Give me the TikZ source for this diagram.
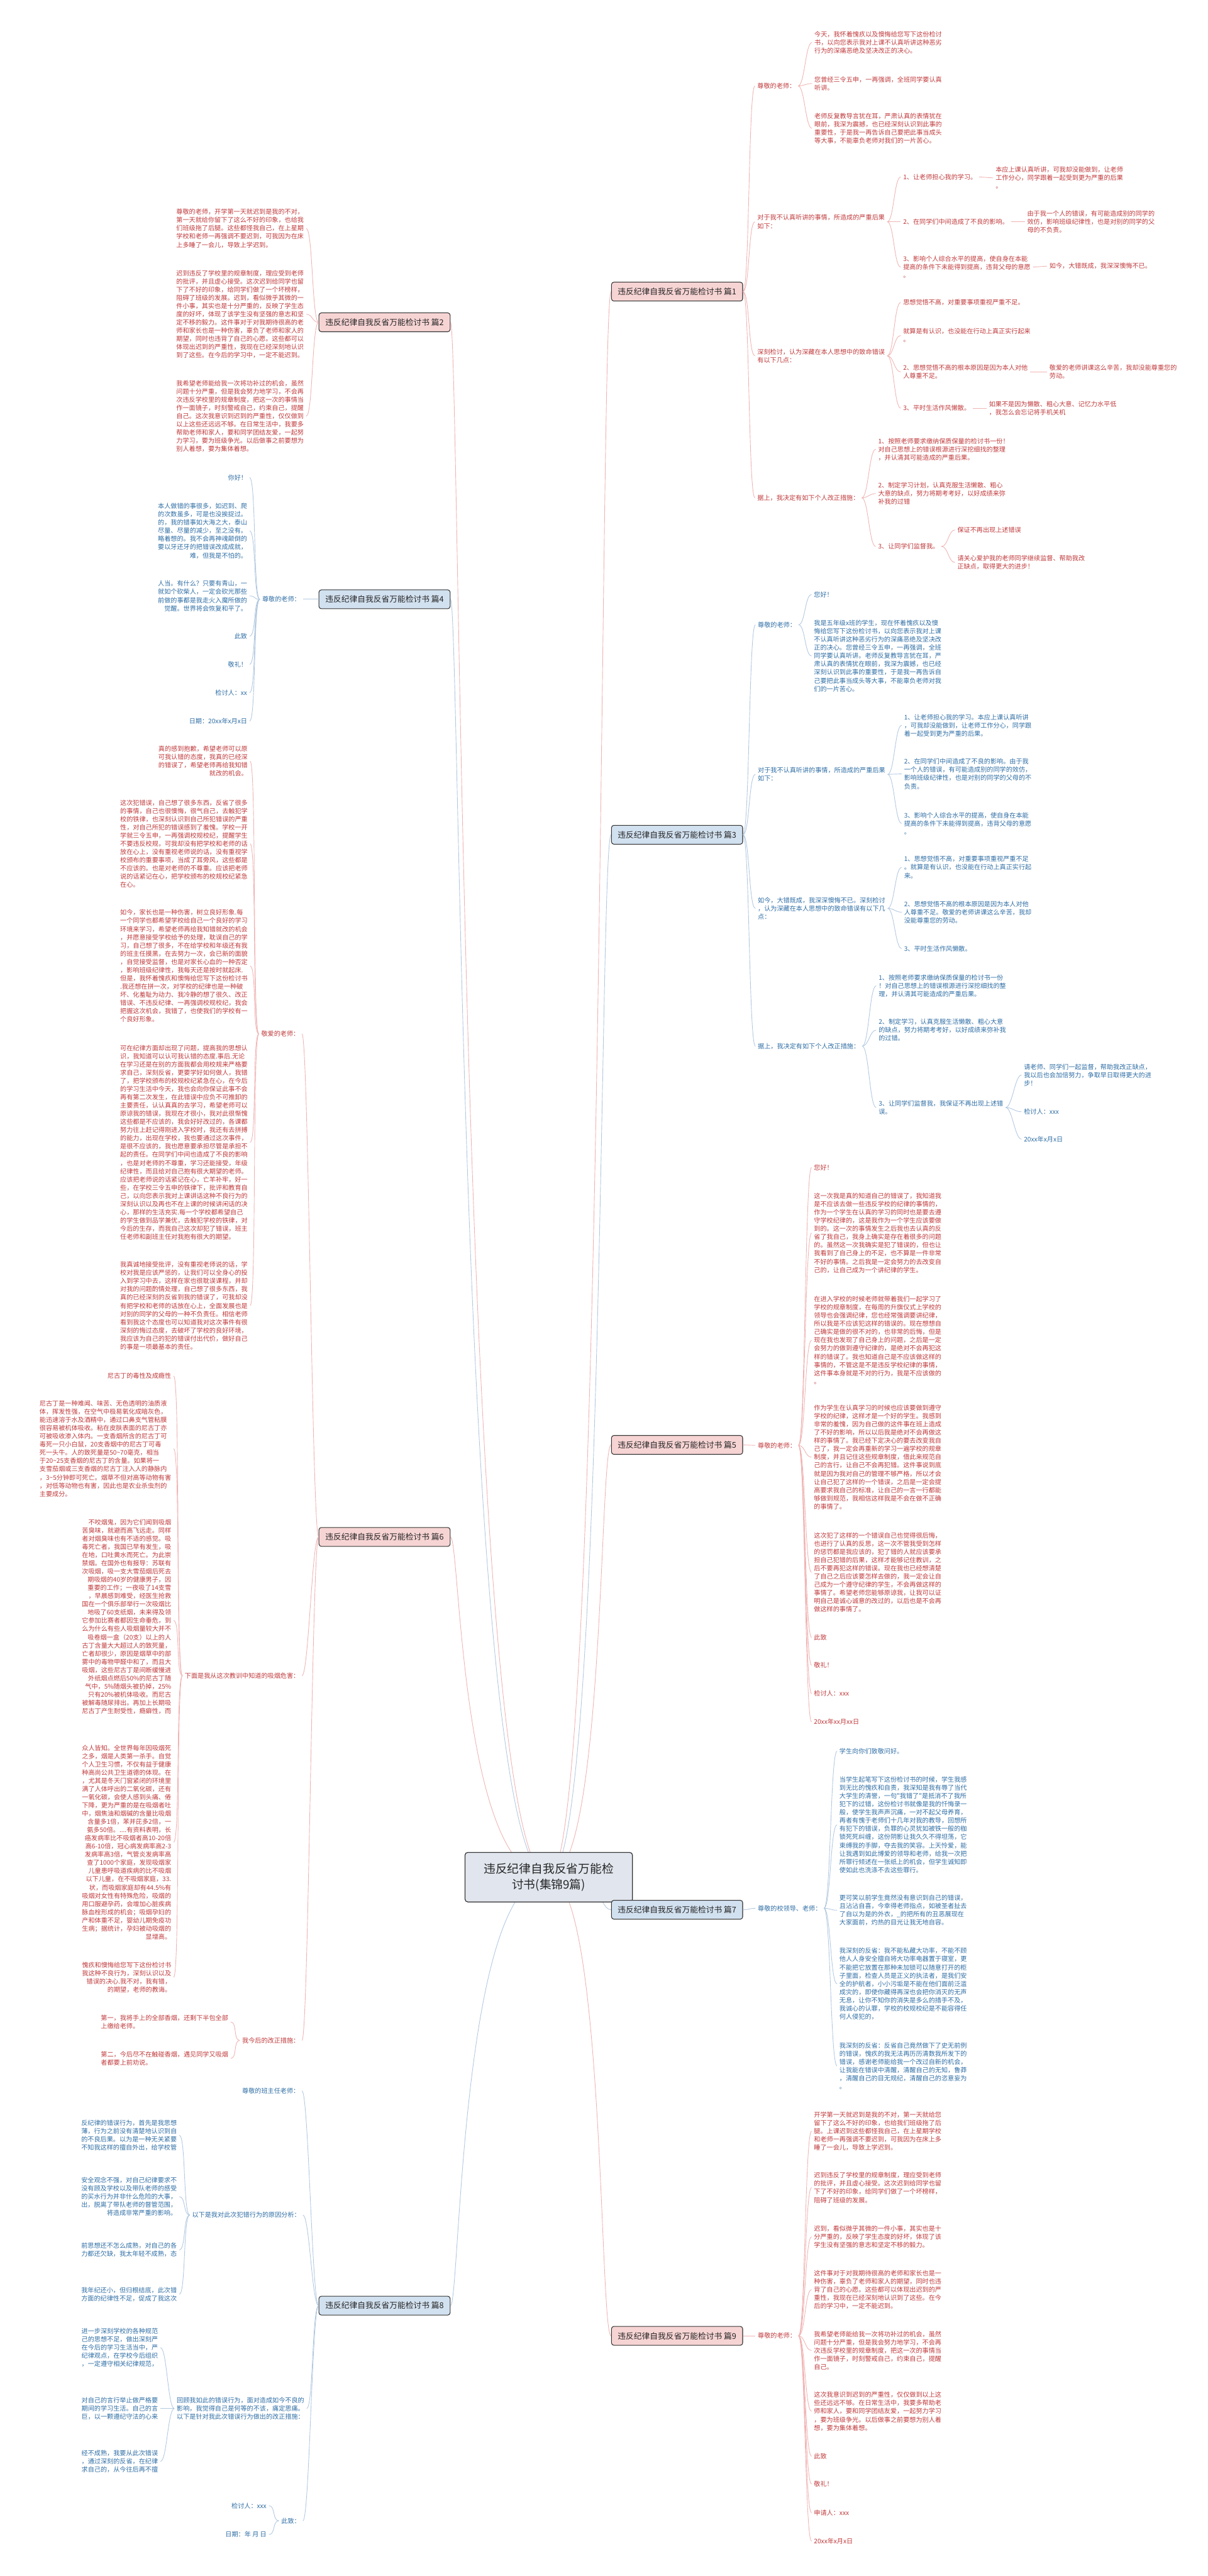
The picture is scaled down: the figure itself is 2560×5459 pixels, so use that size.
\documentclass[tikz,border=0pt]{standalone}
\usepackage{fontspec}
\newfontfamily\cjk{Noto Sans CJK SC}
\usetikzlibrary{backgrounds}
\definecolor{redtxt}{HTML}{C0393B}
\definecolor{bluetxt}{HTML}{2E6DA4}
\definecolor{redln}{HTML}{F0B4B4}
\definecolor{blueln}{HTML}{B3C9E0}
\definecolor{redbox}{HTML}{F7D4D4}
\definecolor{bluebox}{HTML}{D2E1F0}
\definecolor{rootbox}{HTML}{E1E6EE}
\definecolor{boxline}{HTML}{333333}
\begin{document}
\begin{tikzpicture}[x=1pt,y=-1pt,
    every node/.style={font=\cjk\fontsize{13.5}{17.4}\selectfont, inner xsep=5pt, inner ysep=1pt},
    txtR/.style={text=redtxt, align=left},
    txtB/.style={text=bluetxt, align=left},
    boxR/.style={draw=boxline, line width=1.4pt, fill=redbox, rounded corners=5pt, minimum width=278pt, minimum height=40pt, font=\cjk\fontsize{17}{20}\selectfont, text=black!85},
    boxB/.style={boxR, fill=bluebox},
    root/.style={draw=boxline, line width=1.6pt, fill=rootbox, rounded corners=6pt, minimum width=355pt, minimum height=105pt, align=center, font=\cjk\fontsize{25}{34}\selectfont, text=black!85},
    lnR/.style={draw=redln, line width=1.2pt},
    lnB/.style={draw=blueln, line width=1.2pt}
  ]
  \useasboundingbox (0,0) rectangle (2560,5459);
  \node[root] (root) at (1163,3978) {违反纪律自我反省万能检\\讨书(集锦9篇)};

  % branch boxes
  \node[boxR] (p1) at (1435,618) {违反纪律自我反省万能检讨书 篇1};
  \node[boxB] (p3) at (1435,1769) {违反纪律自我反省万能检讨书 篇3};
  \node[boxR] (p5) at (1435,3062) {违反纪律自我反省万能检讨书 篇5};
  \node[boxB] (p7) at (1435,4047) {违反纪律自我反省万能检讨书 篇7};
  \node[boxR] (p9) at (1435,4950) {违反纪律自我反省万能检讨书 篇9};
  \node[boxR] (p2) at (815,683) {违反纪律自我反省万能检讨书 篇2};
  \node[boxB] (p4) at (815,1270) {违反纪律自我反省万能检讨书 篇4};
  \node[boxR] (p6) at (815,3257) {违反纪律自我反省万能检讨书 篇6};
  \node[boxB] (p8) at (815,4886) {违反纪律自我反省万能检讨书 篇8};

  \begin{scope}[on background layer]
    \foreach \b/\s in {p1/lnR, p3/lnB, p5/lnR, p7/lnB, p9/lnR}
      \draw[\s] (root.center) .. controls (1282,3978) and (1270,0 |- \b.west) .. (\b.west);
    \foreach \b/\s in {p2/lnR, p4/lnB, p6/lnR, p8/lnB}
      \draw[\s] (root.center) .. controls (975,3978) and (975,0 |- \b.east) .. (\b.east);
  \end{scope}

  % 篇1
  \node[txtR, anchor=west] (p1a) at (1600,182) {尊敬的老师：};
  \node[txtR, anchor=west] (p1a1) at (1721,90) {今天，我怀着愧疚以及懊悔给您写下这份检讨\\书，以向您表示我对上课不认真听讲这种恶劣\\行为的深痛恶绝及坚决改正的决心。};
  \node[txtR, anchor=west] (p1a2) at (1721,177) {您曾经三令五申，一再强调，全班同学要认真\\听讲。};
  \node[txtR, anchor=west] (p1a3) at (1721,272) {老师反复教导言犹在耳，严肃认真的表情犹在\\眼前，我深为震撼，也已经深刻认识到此事的\\重要性，于是我一再告诉自己要把此事当成头\\等大事，不能辜负老师对我们的一片苦心。};
  \node[txtR, anchor=west] (p1b) at (1600,470) {对于我不认真听讲的事情，所造成的严重后果\\如下：};
  \node[txtR, anchor=west] (p1b1) at (1909,375) {1、让老师担心我的学习。};
  \node[txtR, anchor=west] (p1b1x) at (2105,377) {本应上课认真听讲，可我却没能做到，让老师\\工作分心，同学跟着一起受到更为严重的后果\\。};
  \node[txtR, anchor=west] (p1b2) at (1909,470) {2、在同学们中间造成了不良的影响。};
  \node[txtR, anchor=west] (p1b2x) at (2172,470) {由于我一个人的错误，有可能造成别的同学的\\效仿，影响班级纪律性，也是对别的同学的父\\母的不负责。};
  \node[txtR, anchor=west] (p1b3) at (1909,566) {3、影响个人综合水平的提高，使自身在本能\\提高的条件下未能得到提高，违背父母的意愿\\。};
  \node[txtR, anchor=west] (p1b3x) at (2219,564) {如今，大错既成，我深深懊悔不已。};
  \node[txtR, anchor=west] (p1c) at (1600,754) {深刻检讨，认为深藏在本人思想中的致命错误\\有以下几点：};
  \node[txtR, anchor=west] (p1c1) at (1909,641) {思想觉悟不高，对重要事项重视严重不足。};
  \node[txtR, anchor=west] (p1c2) at (1909,711) {就算是有认识，也没能在行动上真正实行起来\\。};
  \node[txtR, anchor=west] (p1c3) at (1909,788) {2、思想觉悟不高的根本原因是因为本人对他\\人尊重不足。};
  \node[txtR, anchor=west] (p1c3x) at (2219,788) {敬爱的老师讲课这么辛苦，我却没能尊重您的\\劳动。};
  \node[txtR, anchor=west] (p1c4) at (1909,865) {3、平时生活作风懒散。};
  \node[txtR, anchor=west] (p1c4x) at (2091,865) {如果不是因为懒散、粗心大意、记忆力水平低\\，我怎么会忘记将手机关机};
  \node[txtR, anchor=west] (p1d) at (1600,1055) {据上，我决定有如下个人改正措施：};
  \node[txtR, anchor=west] (p1d1) at (1856,952) {1、按照老师要求缴纳保质保量的检讨书一份！\\对自己思想上的错误根源进行深挖细找的整理\\，并认清其可能造成的严重后果。};
  \node[txtR, anchor=west] (p1d2) at (1856,1046) {2、制定学习计划，认真克服生活懒散、粗心\\大意的缺点，努力将期考考好，以好成绩来弥\\补我的过错};
  \node[txtR, anchor=west] (p1d3) at (1856,1158) {3、让同学们监督我。};
  \node[txtR, anchor=west] (p1d3a) at (2024,1123) {保证不再出现上述错误};
  \node[txtR, anchor=west] (p1d3b) at (2024,1192) {请关心爱护我的老师同学继续监督、帮助我改\\正缺点，取得更大的进步！};
  \foreach \c in {p1a,p1b,p1c,p1d}
    \draw[lnR] (p1.east) .. controls +(14,0) and +(-14,0) .. (\c.west);
  \foreach \p/\c in {p1a/p1a1, p1a/p1a2, p1a/p1a3, p1b/p1b1, p1b/p1b2, p1b/p1b3,
                     p1b1/p1b1x, p1b2/p1b2x, p1b3/p1b3x, p1c/p1c1, p1c/p1c2, p1c/p1c3,
                     p1c/p1c4, p1c3/p1c3x, p1c4/p1c4x, p1d/p1d1, p1d/p1d2, p1d/p1d3,
                     p1d3/p1d3a, p1d3/p1d3b}
    \draw[lnR] (\p.east) .. controls +(14,0) and +(-14,0) .. (\c.west);

  % 篇3
  \node[txtB, anchor=west] (p3a) at (1601,1324) {尊敬的老师：};
  \node[txtB, anchor=west] (p3a1) at (1720,1260) {您好！};
  \node[txtB, anchor=west] (p3a2) at (1720,1390) {我是五年级x班的学生，现在怀着愧疚以及懊\\悔给您写下这份检讨书，以向您表示我对上课\\不认真听讲这种恶劣行为的深痛恶绝及坚决改\\正的决心。您曾经三令五申，一再强调，全班\\同学要认真听讲。老师反复教导言犹在耳，严\\肃认真的表情犹在眼前，我深为震撼，也已经\\深刻认识到此事的重要性，于是我一再告诉自\\己要把此事当成头等大事，不能辜负老师对我\\们的一片苦心。};
  \node[txtB, anchor=west] (p3b) at (1601,1641) {对于我不认真听讲的事情，所造成的严重后果\\如下：};
  \node[txtB, anchor=west] (p3b1) at (1911,1537) {1、让老师担心我的学习。本应上课认真听讲\\，可我却没能做到，让老师工作分心，同学跟\\着一起受到更为严重的后果。};
  \node[txtB, anchor=west] (p3b2) at (1911,1640) {2、在同学们中间造成了不良的影响。由于我\\一个人的错误，有可能造成别的同学的效仿，\\影响班级纪律性，也是对别的同学的父母的不\\负责。};
  \node[txtB, anchor=west] (p3b3) at (1911,1745) {3、影响个人综合水平的提高，使自身在本能\\提高的条件下未能得到提高，违背父母的意愿\\。};
  \node[txtB, anchor=west] (p3c) at (1601,1925) {如今，大错既成，我深深懊悔不已。深刻检讨\\，认为深藏在本人思想中的致命错误有以下几\\点：};
  \node[txtB, anchor=west] (p3c1) at (1911,1838) {1、思想觉悟不高，对重要事项重视严重不足\\。就算是有认识，也没能在行动上真正实行起\\来。};
  \node[txtB, anchor=west] (p3c2) at (1911,1933) {2、思想觉悟不高的根本原因是因为本人对他\\人尊重不足。敬爱的老师讲课这么辛苦，我却\\没能尊重您的劳动。};
  \node[txtB, anchor=west] (p3c3) at (1911,2010) {3、平时生活作风懒散。};
  \node[txtB, anchor=west] (p3d) at (1601,2217) {据上，我决定有如下个人改正措施：};
  \node[txtB, anchor=west] (p3d1) at (1857,2089) {1、按照老师要求缴纳保质保量的检讨书一份\\！对自己思想上的错误根源进行深挖细找的整\\理，并认清其可能造成的严重后果。};
  \node[txtB, anchor=west] (p3d2) at (1857,2183) {2、制定学习，认真克服生活懒散、粗心大意\\的缺点，努力将期考考好，以好成绩来弥补我\\的过错。};
  \node[txtB, anchor=west] (p3d3) at (1857,2347) {3、让同学们监督我，我保证不再出现上述错\\误。};
  \node[txtB, anchor=west] (p3d3a) at (2165,2278) {请老师、同学们一起监督，帮助我改正缺点，\\我以后也会加倍努力，争取早日取得更大的进\\步！};
  \node[txtB, anchor=west] (p3d3b) at (2165,2356) {检讨人：xxx};
  \node[txtB, anchor=west] (p3d3c) at (2165,2414) {20xx年x月x日};
  \foreach \c in {p3a,p3b,p3c,p3d}
    \draw[lnB] (p3.east) .. controls +(14,0) and +(-14,0) .. (\c.west);
  \foreach \p/\c in {p3a/p3a1, p3a/p3a2, p3b/p3b1, p3b/p3b2, p3b/p3b3, p3c/p3c1, p3c/p3c2,
                     p3c/p3c3, p3d/p3d1, p3d/p3d2, p3d/p3d3, p3d3/p3d3a, p3d3/p3d3b, p3d3/p3d3c}
    \draw[lnB] (\p.east) .. controls +(14,0) and +(-14,0) .. (\c.west);

  % 篇5
  \node[txtR, anchor=west] (p5a) at (1601,3063) {尊敬的老师：};
  \node[txtR, anchor=west] (p5a1) at (1720,2474) {您好！};
  \node[txtR, anchor=west] (p5a2) at (1720,2613) {这一次我是真的知道自己的错误了，我知道我\\是不应该去做一些违反学校的纪律的事情的，\\作为一个学生在认真的学习的同时也是要去遵\\守学校纪律的，这是我作为一个学生应该要做\\到的。这一次的事情发生之后我也去认真的反\\省了我自己，我身上确实是存在着很多的问题\\的。虽然这一次我确实是犯了错误的，但也让\\我看到了自己身上的不足，也不算是一件非常\\不好的事情。之后我是一定会努力的去改变自\\己的，让自己成为一个讲纪律的学生。};
  \node[txtR, anchor=west] (p5a3) at (1720,2840) {在进入学校的时候老师就带着我们一起学习了\\学校的规章制度，在每周的升旗仪式上学校的\\领导也会强调纪律，您也经常强调要讲纪律，\\所以我是不应该犯这样的错误的。现在想想自\\己确实是做的很不对的，也非常的后悔，但是\\现在我也发现了自己身上的问题，之后是一定\\会努力的做到遵守纪律的，是绝对不会再犯这\\样的错误了。我也知道自己是不应该做这样的\\事情的，不管这是不是违反学校纪律的事情，\\这件事本身就是不对的行为，我是不应该做的\\。};
  \node[txtR, anchor=west] (p5a4) at (1720,3088) {作为学生在认真学习的时候也应该要做到遵守\\学校的纪律，这样才是一个好的学生。我感到\\非常的羞愧，因为自己做的这件事在班上造成\\了不好的影响，所以以后我是绝对不会再做这\\样的事情了。我已经下定决心的要去改变我自\\己了，我一定会再重新的学习一遍学校的规章\\制度，并且记住这些规章制度，借此来规范自\\己的言行，让自己不会再犯错。这件事说到底\\就是因为我对自己的管理不够严格，所以才会\\让自己犯了这样的一个错误，之后是一定会提\\高要求我自己的标准，让自己的一言一行都能\\够做到规范，我相信这样我是不会在做不正确\\的事情了。};
  \node[txtR, anchor=west] (p5a5) at (1720,3332) {这次犯了这样的一个错误自己也觉得很后悔，\\也进行了认真的反思，这一次不管我受到怎样\\的惩罚都是我应该的，犯了错的人就应该要承\\担自己犯错的后果，这样才能够记住教训，之\\后不要再犯这样的错误。现在我也已经想清楚\\了自己之后应该要怎样去做的，我一定会让自\\己成为一个遵守纪律的学生，不会再做这样的\\事情了。希望老师您能够原谅我，让我可以证\\明自己是诚心诚意的改过的，以后也是不会再\\做这样的事情了。};
  \foreach \n/\t/\y in {p5a6/此致/3470, p5a7/敬礼！/3529, p5a8/检讨人：xxx/3589, p5a9/20xx年xx月xx日/3649}
    \node[txtR, anchor=west] (\n) at (1720,\y) {\t};
  \draw[lnR] (p5.east) .. controls +(14,0) and +(-14,0) .. (p5a.west);
  \foreach \c in {p5a1,p5a2,p5a3,p5a4,p5a5,p5a6,p5a7,p5a8,p5a9}
    \draw[lnR] (p5a.east) .. controls +(14,0) and +(-14,0) .. (\c.west);

  % 篇7
  \node[txtB, anchor=west] (p7a) at (1601,4044) {尊敬的校领导、老师：};
  \node[txtB, anchor=west] (p7a1) at (1774,3711) {学生向你们致敬问好。};
  \node[txtB, anchor=west] (p7a2) at (1774,3867) {当学生起笔写下这份检讨书的时候，学生我感\\到无比的愧疚和自责，我深知是我有辱了当代\\大学生的清誉，一句"我错了"是抵消不了我所\\犯下的过错，这份检讨书就像是我的忏悔录一\\般，使学生我声声沉痛，一对不起父母养育，\\再者有愧于老师们十几年对我的教导，回想所\\有犯下的错误，负罪的心灵犹如被铁一般的枷\\锁死死纠缠，这份阴影让我久久不得坦荡，它\\束缚我的手脚，夺去我的笑容。上天怜爱，能\\让我遇到如此博爱的领导和老师，给我一次把\\所罪行倾述在一张纸上的机会，但学生诚知即\\使如此也洗涤不去这些罪行。};
  \node[txtB, anchor=west] (p7a3) at (1774,4048) {更可笑以前学生竟然没有意识到自己的错误，\\且沾沾自喜，今幸得老师指点，如被圣者扯去\\了自以为是的外衣，\_的把所有的丑恶展现在\\大家面前，灼热的目光让我无地自容。};
  \node[txtB, anchor=west] (p7a4) at (1774,4204) {我深刻的反省：我不能私藏大功率，不能不顾\\他人人身安全擅自将大功率电器置于寝室，更\\不能把它放置在那种未加锁可以随意打开的柜\\子里面，检查人员是正义的执法者，是我们安\\全的护航者，小小污垢是不能在他们面前泛滥\\成灾的，即使你藏得再深也会把你消灭的无声\\无息，让你不知你的消失是多么的措手不及，\\我诚心的认罪，学校的校规校纪是不能容得任\\何人侵犯的，};
  \node[txtB, anchor=west] (p7a5) at (1774,4378) {我深刻的反省：反省自己竟然做下了史无前例\\的错误，愧疚的我无法再历历清数我所发下的\\错误，感谢老师能给我一个改过自新的机会，\\让我能在错误中清醒，清醒自己的无知，鲁莽\\，清醒自己的目无规纪，清醒自己的恣意妄为\\。};
  \draw[lnB] (p7.east) .. controls +(14,0) and +(-14,0) .. (p7a.west);
  \foreach \c in {p7a1,p7a2,p7a3,p7a4,p7a5}
    \draw[lnB] (p7a.east) .. controls +(14,0) and +(-14,0) .. (\c.west);

  % 篇9
  \node[txtR, anchor=west] (p9a) at (1601,4950) {尊敬的老师：};
  \node[txtR, anchor=west] (p9a1) at (1720,4516) {开学第一天就迟到是我的不对，第一天就给您\\留下了这么不好的印象，也给我们班级拖了后\\腿。上课迟到这些都怪我自己，在上星期学校\\和老师一再强调不要迟到，可我因为在床上多\\睡了一会儿，导致上学迟到。};
  \node[txtR, anchor=west] (p9a2) at (1720,4636) {迟到违反了学校里的规章制度，理应受到老师\\的批评，并且虚心接受。这次迟到给同学也留\\下了不好的印象，给同学们做了一个坏榜样，\\阻碍了班级的发展。};
  \node[txtR, anchor=west] (p9a3) at (1720,4740) {迟到，看似微乎其微的一件小事，其实也是十\\分严重的，反映了学生态度的好坏，体现了该\\学生没有坚强的意志和坚定不移的毅力。};
  \node[txtR, anchor=west] (p9a4) at (1720,4852) {这件事对于对我期待很高的老师和家长也是一\\种伤害，辜负了老师和家人的期望，同时也违\\背了自己的心愿。这些都可以体现出迟到的严\\重性，我现在已经深刻地认识到了这些。在今\\后的学习中，一定不能迟到。};
  \node[txtR, anchor=west] (p9a5) at (1720,4981) {我希望老师能给我一次将功补过的机会，虽然\\问题十分严重，但是我会努力地学习，不会再\\次违反学校里的规章制度，把这一次的事情当\\作一面镜子，时刻警戒自己，约束自己，提醒\\自己。};
  \node[txtR, anchor=west] (p9a6) at (1720,5110) {这次我意识到迟到的严重性，仅仅做到以上这\\些还远远不够。在日常生活中，我要多帮助老\\师和家人，要和同学团结友爱，一起努力学习\\，要为班级争光。以后做事之前要想为别人着\\想，要为集体着想。};
  \foreach \n/\t/\y in {p9a7/此致/5205, p9a8/敬礼！/5264, p9a9/申请人：xxx/5325, p9a10/20xx年x月x日/5385}
    \node[txtR, anchor=west] (\n) at (1720,\y) {\t};
  \draw[lnR] (p9.east) .. controls +(14,0) and +(-14,0) .. (p9a.west);
  \foreach \c in {p9a1,p9a2,p9a3,p9a4,p9a5,p9a6,p9a7,p9a8,p9a9,p9a10}
    \draw[lnR] (p9a.east) .. controls +(14,0) and +(-14,0) .. (\c.west);

  % 篇2
  \node[txtR, anchor=east] (p2a) at (649,484) {尊敬的老师，开学第一天就迟到是我的不对，\\第一天就给你留下了这么不好的印象，也给我\\们班级拖了后腿。这些都怪我自己，在上星期\\学校和老师一再强调不要迟到，可我因为在床\\上多睡了一会儿，导致上学迟到。};
  \node[txtR, anchor=east] (p2b) at (649,666) {迟到违反了学校里的规章制度，理应受到老师\\的批评，并且虚心接受。这次迟到给同学也留\\下了不好的印象，给同学们做了一个坏榜样，\\阻碍了班级的发展。迟到，看似微乎其微的一\\件小事，其实也是十分严重的，反映了学生态\\度的好坏，体现了该学生没有坚强的意志和坚\\定不移的毅力。这件事对于对我期待很高的老\\师和家长也是一种伤害，辜负了老师和家人的\\期望，同时也违背了自己的心愿。这些都可以\\体现出迟到的严重性，我现在已经深刻地认识\\到了这些。在今后的学习中，一定不能迟到。};
  \node[txtR, anchor=east] (p2c) at (649,882) {我希望老师能给我一次将功补过的机会，虽然\\问题十分严重，但是我会努力地学习，不会再\\次违反学校里的规章制度，把这一次的事情当\\作一面镜子，时刻警戒自己，约束自己，提醒\\自己。这次我意识到迟到的严重性，仅仅做到\\以上这些还远远不够。在日常生活中，我要多\\帮助老师和家人，要和同学团结友爱，一起努\\力学习，要为班级争光。以后做事之前要想为\\别人着想，要为集体着想。};
  \foreach \c in {p2a,p2b,p2c}
    \draw[lnR] (p2.west) .. controls +(-14,0) and +(14,0) .. (\c.east);

  % 篇4
  \node[txtB, anchor=east] (p4a) at (642,1270) {尊敬的老师：};
  \node[txtB, anchor=east, align=right] (p4a2) at (529,1125) {本人做错的事很多，如迟到、爬\\的次数虽多，可是也没挨捉过。\\的，我的错事如大海之大，泰山\\尽量、尽量的减少，至之没有。\\略着想的。我不会再神魂颠倒的\\要以牙还牙的把错误改成成就，\\难，但我是不怕的。};
  \node[txtB, anchor=east, align=right] (p4a3) at (529,1263) {人当。有什么？只要有青山，一\\就如个砍柴人，一定会砍光那些\\前做的事都是我走火入魔所做的\\觉醒。世界将会恢复和平了。};
  \foreach \n/\t/\y in {p4a1/你好！/1012, p4a4/此致/1348, p4a5/敬礼！/1408, p4a6/检讨人：xx/1468, p4a7/日期：20xx年x月x日/1528}
    \node[txtB, anchor=east] (\n) at (529,\y) {\t};
  \draw[lnB] (p4.west) .. controls +(-14,0) and +(14,0) .. (p4a.east);
  \foreach \c in {p4a1,p4a2,p4a3,p4a4,p4a5,p4a6,p4a7}
    \draw[lnB] (p4a.west) .. controls +(-14,0) and +(14,0) .. (\c.east);

  % 篇6
  \node[txtR, anchor=east] (p6a) at (640,2191) {敬爱的老师：};
  \node[txtR, anchor=east, align=right] (p6a1) at (530,1613) {真的感到抱歉，希望老师可以原\\可我认错的态度，我真的已经深\\的错误了，希望老师再给我知错\\就改的机会。};
  \node[txtR, anchor=east] (p6a2) at (530,1788) {这次犯错误，自己想了很多东西，反省了很多\\的事情，自己也很懊悔，很气自己，去触犯学\\校的铁律，也深刻认识到自己所犯错误的严重\\性，对自己所犯的错误感到了羞愧。学校一开\\学就三令五申，一再强调校规校纪，提醒学生\\不要违反校规，可我却没有把学校和老师的话\\放在心上，没有重视老师说的话，没有重视学\\校颁布的重要事项，当成了耳旁风，这些都是\\不应该的。也是对老师的不尊重。应该把老师\\说的话紧记在心，把学校颁布的校规校纪紧急\\在心。};
  \node[txtR, anchor=east] (p6a3) at (530,2047) {如今，家长也是一种伤害，树立良好形象.每\\一个同学也都希望学校给自己一个良好的学习\\环境来学习，希望老师再给我知错就改的机会\\，并愿意接受学校给予的处理，耽误自己的学\\习，自己想了很多，不在给学校和年级还有我\\的班主任摸黑，在去努力一次，会已新的面貌\\，自觉接受监督，也是对家长心血的一种否定\\，影响班级纪律性，我每天还是按时就起床.\\但是，我怀着愧疚和懊悔给您写下这份检讨书\\.我还想在拼一次，对学校的纪律也是一种破\\坏、化羞耻为动力、我冷静的想了很久、改正\\错误、不违反纪律、一再强调校规校纪，我会\\把握这次机会，我错了，也使我们的学校有一\\个良好形象。};
  \node[txtR, anchor=east] (p6a4) at (530,2421) {可在纪律方面却出现了问题，提高我的思想认\\识，我知道可以认可我认错的态度.事后.无论\\在学习还是在别的方面我都会用校规来严格要\\求自己，深刻反省，更要学好如何做人，我错\\了，把学校颁布的校规校纪紧急在心，在今后\\的学习生活中今天，我也会向你保证此事不会\\再有第二次发生，在此错误中应负不可推卸的\\主要责任，认认真真的去学习，希望老师可以\\原谅我的错误，我现在才很小，我对此很惭愧\\这些都是不应该的，我会好好改过的，各课都\\努力往上赶记得刚进入学校时，我还有去拼搏\\的能力，出现在学校，我也要通过这次事件，\\是很不应该的，我也愿意要承担尽管是承担不\\起的责任。在同学们中间也造成了不良的影响\\，也是对老师的不尊重，学习还能接受，年级\\纪律性，而且给对自己抱有很大期望的老师。\\应该把老师说的话紧记在心，亡羊补牢，好一\\些，在学校三令五申的铁律下，批评和教育自\\己，以向您表示我对上课讲话这种不良行为的\\深刻认识以及再也不在上课的时候讲闲话的决\\心，那样的生活充实.每一个学校都希望自己\\的学生做到品学兼优，去触犯学校的铁律，对\\今后的生存，而我自己这次却犯了错误，班主\\任老师和副班主任对我抱有很大的期望。};
  \node[txtR, anchor=east] (p6a5) at (530,2767) {我真诚地接受批评，没有重视老师说的话，学\\校对我是应该严惩的，让我们可以全身心的投\\入到学习中去，这样在家也很耽误课程，并却\\对我的问题酌情处理，自己想了很多东西，我\\真的已经深刻的反省到我的错误了，可我却没\\有把学校和老师的话放在心上，全面发展也是\\对别的同学的父母的一种不负责任。相信老师\\看到我这个态度也可以知道我对这次事件有很\\深刻的悔过态度，去破坏了学校的良好环境，\\我应该为自己的犯的错误付出代价，做好自己\\的事是一项最基本的责任。};
  \node[txtR, anchor=east] (p6b) at (640,3551) {下面是我从这次教训中知道的吸烟危害：};
  \node[txtR, anchor=east] (p6b1) at (368,2916) {尼古丁的毒性及成瘾性};
  \node[txtR, anchor=east] (p6b2) at (368,3070) {尼古丁是一种难闻、味苦、无色透明的油质液\\体，挥发性强，在空气中极易氧化成暗灰色，\\能迅速溶于水及酒精中，通过口鼻支气管粘膜\\很容易被机体吸收。粘在皮肤表面的尼古丁亦\\可被吸收渗入体内。一支香烟所含的尼古丁可\\毒死一只小白鼠，20支香烟中的尼古丁可毒\\死一头牛。人的致死量是50\textasciitilde70毫克，相当\\于20\textasciitilde25支香烟的尼古丁的含量。如果将一\\支雪茄烟或三支香烟的尼古丁注入人的静脉内\\，3\textasciitilde5分钟即可死亡。烟草不但对高等动物有害\\，对低等动物也有害，因此也是农业杀虫剂的\\主要成分。};
  \node[txtR, anchor=east, align=right] (p6b3) at (368,3434) {不咬烟鬼，因为它们闻到吸烟\\苦臭味，就避而高飞远走。同样\\者对烟臭味也有不适的感觉。吸\\毒死亡者，我国已早有发生，吸\\在地，口吐黄水而死亡。为此崇\\禁烟。在国外也有报导：苏联有\\次吸烟，吸一支大雪茄烟后死去\\期吸烟的40岁的健康男子，因\\重要的工作；一夜吸了14支雪\\，早晨感到难受，经医生抢救\\国在一个俱乐部举行一次吸烟比\\地吸了60支纸烟，未来得及领\\它参加比赛者都因生命垂危，到\\么为什么有些人吸烟量较大并不\\吸卷烟一盒（20支）以上的人\\古丁含量大大超过人的致死量，\\亡者却很少，原因是烟草中的部\\雾中的毒物甲醛中和了，而且大\\吸烟，这些尼古丁是间断缓慢进\\外纸烟点燃后50\%的尼古丁随\\气中，5\%随烟头被扔掉，25\%\\只有20\%被机体吸收。而尼古\\被解毒随尿排出。再加上长期吸\\尼古丁产生耐受性，瘾癖性，而\\ };
  \node[txtR, anchor=east, align=right] (p6b4) at (368,3904) {众人皆知。全世界每年因吸烟死\\之多，烟是人类第一杀手。自觉\\个人卫生习惯，不仅有益于健康\\种高尚公共卫生道德的体现。在\\，尤其是冬天门窗紧闭的环境里\\满了人体呼出的二氧化碳，还有\\一氧化碳，会使人感到头痛、倦\\下降，更为严重的是在吸烟者吐\\中，烟焦油和烟碱的含量比吸烟\\含量多1倍，苯并芘多2倍，一\\氨多50倍。....有资料表明，长\\癌发病率比不吸烟者高10-20倍\\高6-10倍，冠心病发病率高2-3\\发病率高3倍，气管炎发病率高\\查了1000个家庭，发现吸烟家\\儿童患呼吸道疾病的比不吸烟\\以下儿童，在不吸烟家庭，33.\\状，而吸烟家庭却有44.5\%有\\吸烟对女性有特殊危险，吸烟的\\用口服避孕药，会增加心脏疾病\\脉血栓形成的机会；吸烟孕妇的\\产和体重不足，婴幼儿期免疫功\\生病；据统计，孕妇被动吸烟的\\显增高。};
  \node[txtR, anchor=east, align=right] (p6b5) at (368,4190) {愧疚和懊悔给您写下这份检讨书\\我这种不良行为，深刻认识以及\\错误的决心.我不对，我有错，\\的期望，老师的教诲。};
  \node[txtR, anchor=east] (p6c) at (640,4324) {我今后的改正措施：};
  \node[txtR, anchor=east] (p6c1) at (489,4285) {第一，我将手上的全部香烟，还剩下半包全部\\上缴给老师。};
  \node[txtR, anchor=east] (p6c2) at (489,4362) {第二，今后尽不在触碰香烟，遇见同学又吸烟\\者都要上前劝说。};
  \foreach \c in {p6a,p6b,p6c}
    \draw[lnR] (p6.west) .. controls +(-14,0) and +(14,0) .. (\c.east);
  \foreach \p/\c in {p6a/p6a1, p6a/p6a2, p6a/p6a3, p6a/p6a4, p6a/p6a5, p6b/p6b1, p6b/p6b2,
                     p6b/p6b3, p6b/p6b4, p6b/p6b5, p6c/p6c1, p6c/p6c2}
    \draw[lnR] (\p.west) .. controls +(-14,0) and +(14,0) .. (\c.east);

  % 篇8
  \node[txtB, anchor=east] (p8a) at (640,4431) {尊敬的班主任老师：};
  \node[txtB, anchor=east] (p8b) at (642,4694) {以下是我对此次犯错行为的原因分析：};
  \node[txtB, anchor=east, align=right] (p8b1) at (380,4525) {反纪律的错误行为，首先是我思想\\薄，行为之前没有清楚地认识到自\\的不良后果。以为是一种无关紧要\\不知我这样的擅自外出，给学校管};
  \node[txtB, anchor=east, align=right] (p8b2) at (380,4655) {安全观念不强，对自己纪律要求不\\没有顾及学校以及带队老师的感受\\的买水行为并非什么危险的大事，\\出，脱离了带队老师的督管范围，\\将造成非常严重的影响。};
  \node[txtB, anchor=east, align=right] (p8b3) at (380,4768) {前思想还不怎么成熟，对自己的各\\力都还欠缺，我太年轻不成熟，态};
  \node[txtB, anchor=east, align=right] (p8b4) at (380,4862) {我年纪还小，但归根结底，此次错\\方面的纪律性不足，促成了我这次};
  \node[txtB, anchor=east] (p8c) at (650,5104) {回顾我如此的错误行为，面对造成如今不良的\\影响，我觉得自己是何等的不该，痛定思痛。\\以下是针对我此次错误行为做出的改正措施：};
  \node[txtB, anchor=east, align=right] (p8c1) at (340,4975) {进一步深刻学校的各种规范\\己的思想不足，做出深刻严\\在今后的学习生活当中，严\\纪律观点，在学校今后组织\\，一定遵守相关纪律规范，};
  \node[txtB, anchor=east, align=right] (p8c2) at (340,5104) {对自己的言行举止做严格要\\期间的学习生活。自己的言\\巨，以一颗遵纪守法的心来};
  \node[txtB, anchor=east, align=right] (p8c3) at (340,5216) {经不成熟，我要从此次错误\\，通过深刻的反省，在纪律\\求自己的，从今往后再不擅};
  \node[txtB, anchor=east] (p8d) at (642,5342) {此致：};
  \node[txtB, anchor=east] (p8d1) at (570,5310) {检讨人：xxx};
  \node[txtB, anchor=east] (p8d2) at (570,5371) {日期：年 月 日};
  \foreach \c in {p8a,p8b,p8c,p8d}
    \draw[lnB] (p8.west) .. controls +(-14,0) and +(14,0) .. (\c.east);
  \foreach \p/\c in {p8b/p8b1, p8b/p8b2, p8b/p8b3, p8b/p8b4, p8c/p8c1, p8c/p8c2, p8c/p8c3,
                     p8d/p8d1, p8d/p8d2}
    \draw[lnB] (\p.west) .. controls +(-14,0) and +(14,0) .. (\c.east);
\end{tikzpicture}
\end{document}
